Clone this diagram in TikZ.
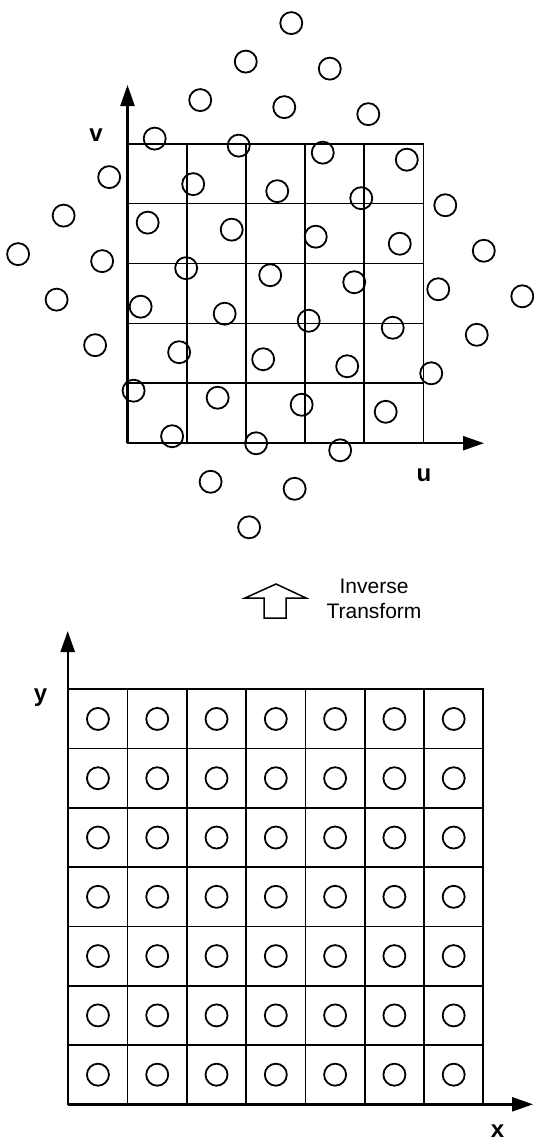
\documentclass[tikz,border=0pt]{standalone}
\usepackage{fontspec}
\setmainfont{Liberation Sans}
\usetikzlibrary{arrows.meta}
\begin{document}
\begin{tikzpicture}[x=1pt,y=-1pt,
  dot/.style={circle,draw,line width=1.8pt,minimum size=22pt,inner sep=0pt},
  gridline/.style={line width=1.7pt,line cap=rect},
  axis/.style={line width=2.4pt,-{Triangle[length=21pt,width=14pt]}},
  axlabel/.style={font=\bfseries\fontsize{24}{24}\selectfont,inner sep=0pt,anchor=base},
  caption/.style={font=\fontsize{21}{25}\selectfont,inner sep=0pt,anchor=base},
  hollowarrow/.style={draw,fill=white,line width=1.5pt,line join=miter}]
\useasboundingbox (0,0) rectangle (533,1140);

% ---------- upper panel: transformed grid ----------
\foreach \k in {0,...,5}{
  \draw[gridline] ({127.5+\k*59.2},143.7) -- ({127.5+\k*59.2},443.2);
  \draw[gridline] (127.5,{143.7+\k*59.9}) -- (423.5,{143.7+\k*59.9});
}
\coordinate (O1) at (127.5,443.2);
\coordinate (vtip) at (127.5,85);
\coordinate (utip) at (484,443.2);
\draw[axis] (O1) -- (vtip);
\draw[axis] (O1) -- (utip);
\node[axlabel] (vlab) at (96,141.7) {v};
\node[axlabel] (ulab) at (424,481.7) {u};

\foreach \i in {0,...,6}{
  \foreach \j in {0,...,6}{
    \node[dot] (t\i\j) at ({270.2+(\i-3)*45.53+(\j-3)*38.5},{275.2-(\i-3)*38.5+(\j-3)*45.53}) {};
  }
}

% ---------- middle: inverse transform arrow ----------
\draw[hollowarrow] (276,584) -- (245,598) -- (264,598) -- (264,618) -- (286,618) -- (286,598) -- (306,598) -- cycle;
\node[caption] (inv) at (374,593) {Inverse};
\node[caption] (trf) at (374,618) {Transform};

% ---------- lower panel: regular grid ----------
\foreach \k in {0,...,7}{
  \draw[gridline] ({68.3+\k*59.29},689.3) -- ({68.3+\k*59.29},1104.3);
  \draw[gridline] (68.3,{689.3+\k*59.29}) -- (483.3,{689.3+\k*59.29});
}
\coordinate (O2) at (67.7,1104.3);
\coordinate (ytip) at (67.7,631);
\coordinate (xtip) at (533,1104.3);
\draw[axis] (O2) -- (ytip);
\draw[axis] (O2) -- (xtip);
\node[axlabel] (ylab) at (40.5,701.7) {y};
\node[axlabel] (xlab) at (497.5,1137) {x};

\foreach \c in {0,...,6}{
  \foreach \r in {0,...,6}{
    \node[dot] (b\c\r) at ({68.3+(\c+0.5)*59.29},{689.3+(\r+0.5)*59.29}) {};
  }
}
\end{tikzpicture}
\end{document}
